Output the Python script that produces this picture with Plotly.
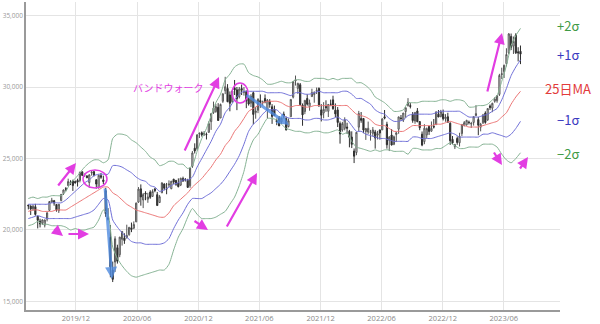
import plotly.graph_objects as go
import pandas as pd

# weekly candles (Friday of each week), Nikkei 225, Jul 2019 - Jul 2023
weeks = pd.date_range("2019-07-12", periods=211, freq="W-FRI")

opens = [21750,21680,21480,21630,20960,20620,20490,20340,20760,21370,21960,22050,21780,21350,22060,22550,22890,23100,23320,23420,23390,23470,23460,24070,23840,
23780,23320,23990,24080,23510,22970,23800,23500,22750,20850,19470,17190,17760,18760,18270,19350,19440,19460,19670,20150,20130,20570,21950,22880,22100,22580,22150,22650,22350,22870,22470,21920,22600,23220,22890,23140,22890,23550,23470,23290,23140,23600,23540,23470,23090,24460,25720,25690,26720,26800,26700,26690,
26830,27580,28200,28280,28580,27830,29000,29740,29900,29440,28970,29940,29800,29320,29900,29620,29690,29200,28870,29600,28210,28370,29050,28900,29200,28400,29000,28620,28450,27670,27830,27560,28100,27790,27230,27920,29290,30420,29900,30160,28730,28280,29200,28620,29330,29470,29710,29900,28400,28180,28640,28300,28800,
29100,28380,28400,27440,26990,27110,27200,26900,26500,25520,25420,27190,27800,27800,26890,26850,26830,26760,26860,26630,27000,27000,27920,27390,26270,26640,25990,26680,27050,27830,27680,28280,28700,28700,28090,27620,28330,27580,26700,26180,26650,27250,26910,27250,27370,28100,27930,28110,27780,27920,27470,26340,
25820,26400,26100,26740,27300,27350,27540,27410,27520,28000,27720,27190,27500,28180,27700,28670,28520,29000,29040,29480,30870,31070,31640,32390,33540,32860,33630,32460,32500]
highs = [21760,21720,21760,21830,21000,20790,20740,20720,21240,22020,22250,22100,21800,21820,22510,22820,23000,23590,23480,23520,23460,23590,24090,24090,23950,
23830,23900,24120,24120,23560,23870,23990,23800,22950,21530,20350,17790,19560,18970,19520,19920,19770,20370,20220,20520,20600,21920,23000,23190,22590,22710,22600,22780,22840,22940,22660,22440,23340,23260,23290,23470,23430,23580,23480,23610,23650,23730,23630,23580,24330,25520,26060,26710,26830,26890,26920,26820,
27600,28140,28980,28820,28870,28840,29560,30710,30200,29690,29770,30490,30000,30000,30170,29990,29760,29260,29500,29690,28600,29200,29480,29050,29480,29160,29150,28800,28700,27800,27970,27860,28280,27930,27800,29130,30380,30800,30300,30280,28850,29070,29490,29120,29880,29700,29960,29970,28800,28940,29070,28800,29120,
29390,28850,28600,27590,27560,27880,27500,27000,26900,25700,26850,28330,28250,27830,27140,27580,27000,27200,27000,26930,27020,27820,28390,27570,26570,27060,26600,26860,27920,28040,28180,28560,29220,28870,28250,28260,28530,27620,26890,27400,27170,27260,27590,27760,28290,28390,28400,28420,28100,28200,27530,26570,
26020,26540,26800,27400,27620,27700,27650,27560,27930,28730,27900,27490,28120,28300,28520,28780,28900,29280,29430,30920,31350,31560,32710,33770,33740,33530,33760,32780,32900]
lows = [21440,21050,21350,21000,20110,20180,20360,20180,20600,21340,21890,21700,21280,21190,22000,22450,22710,23080,23140,22730,23250,23040,23330,23770,23720,
23620,22950,23800,23740,22890,22890,23580,23200,20920,20670,16690,16360,17060,17650,18100,18910,19030,19400,19600,19850,20060,20550,21900,21700,21530,22080,21900,22180,22310,22640,21710,21900,22580,22780,22500,22980,22850,23220,23090,22980,23070,23410,23390,22950,22950,24340,25350,25570,26430,26530,26570,26330,
26810,27000,28120,28200,27630,27830,28890,29500,28940,28300,28900,29440,28380,29200,29440,29400,28520,28700,28600,27390,27780,28170,28550,28700,28860,27800,28550,27420,27990,27330,27270,27420,27800,26950,27180,27910,29200,30100,29520,28690,27290,28100,28700,28340,29320,28900,29510,28600,27590,27810,28270,27900,28660,
28410,27890,27200,26040,26880,26970,26720,25780,25730,24680,25230,26900,27500,26770,26300,26720,26250,26560,25690,26330,26320,26990,27740,25690,25520,25920,25930,26150,26730,27640,27550,27850,28630,28500,27500,27430,27540,26980,25860,26000,26410,26650,26870,27100,27350,27900,27880,27660,27570,27510,25950,25990,
25660,25960,25840,26560,27250,27300,27380,27140,27300,27960,26630,26900,27410,27430,27630,28400,28240,28900,28900,29370,30560,30630,31440,32290,32580,32310,32310,31790,31600]
closes = [21690,21470,21660,21090,20680,20420,20710,20700,21200,21990,22080,21880,21410,21800,22490,22800,22850,23390,23300,23110,23290,23350,24020,23820,23840,
23660,23850,24040,23830,23210,23830,23690,23390,21140,20750,17430,16550,19390,17820,19500,19900,19260,19620,20180,20040,20390,21880,22860,22310,22480,22510,22310,22290,22700,22750,21710,22330,23290,22920,22880,23210,23410,23360,23200,23030,23620,23410,23520,22980,24330,25390,25530,26640,26750,26650,26760,26660,
27440,28140,28520,28630,27660,28780,29520,30020,28970,28860,29720,29790,29180,29850,29770,29680,29020,28810,29360,28080,28320,29150,28940,28950,28960,29070,28780,27940,28000,27550,27280,27820,27980,27010,27640,29130,30380,30500,30250,28770,28050,29070,28800,28890,29610,29610,29750,28750,28030,28440,28550,28780,28790,
28480,28120,27520,26720,27440,27700,27120,26480,25990,25160,26830,28150,27670,26990,27090,27110,26850,27000,26430,26740,26780,27760,27820,25960,26490,25940,26520,26790,27910,27800,28180,28550,28930,28640,27650,28210,27570,27150,25940,27120,27090,26890,27110,27200,28260,27900,28280,27780,27900,27530,26240,26090,
25970,26120,26550,27380,27510,27670,27510,27450,27930,28140,27330,27390,28040,27520,28490,28560,28860,29160,29390,30810,30920,31520,32270,33710,32780,33190,32390,32390,32300]

# Bollinger band levels read every second week
band_weeks = weeks[::2]
upper2 = [22200,22300,22200,22300,22300,22400,22400,22400,22700,23300, 23600,24000,24400,24700,24900,24900,24700,24900,26400,26700,
          26700,26600,26300,26100,25800,25500,25100,24900,24500,24600, 24800,24800,24600,24600,24300,24500,25500,26400,27100,28000,
          28900,29500,30500,30900,31400,31600,31600,31000,30800,30700, 30500,30200,30200,30300,30400,30300,30300,30500,30500,30400,
          30400,30600,30600,30600,30500,30600,30500,30600,30600,30600, 30300,30300,30100,29800,29300,29100,28900,28600,28300,28300,
          28400,28900,28900,28900,29000,29000,29000,29000,29100,29100, 29000,29100,29100,29000,28600,28600,28700,28700,28800,29100,
          29400,30400,31500,32900,33600,34100]
upper1 = [21800,21800,21800,21800,21800,21900,21900,21900,22100,22400, 22700,23000,23300,23500,23800,23900,23900,23900,24500,24500,
          24400,24200,24000,23700,23500,23400,23100,23000,22700,22800, 23000,23200,23300,23500,23500,23700,24400,25000,25600,26200,
          26900,27400,28200,28600,29100,29500,29700,29700,29700,29700, 29700,29600,29600,29600,29600,29500,29400,29600,29600,29500,
          29500,29600,29700,29600,29600,29600,29600,29700,29700,29500, 29200,29200,29000,28800,28400,28200,28100,27800,27600,27600,
          27700,28000,28100,28100,28100,28100,28100,28200,28300,28300, 28300,28300,28300,28100,27900,27900,27900,28000,28100,28300,
          28500,29100,29900,30800,31400,31900]
middle = [21300,21400,21400,21300,21300,21300,21400,21400,21400,21600, 21800,22000,22200,22400,22600,22800,23000,23000,22600,22400,
          22100,21800,21600,21400,21300,21200,21100,21000,20900,20900, 21200,21700,22000,22300,22600,23000,23300,23600,24000,24400,
          24900,25300,25900,26300,26900,27300,27800,28300,28500,28700, 28900,29000,29000,29000,28900,28700,28600,28700,28700,28600,
          28600,28700,28700,28700,28700,28700,28700,28700,28700,28400, 28100,28000,27900,27700,27400,27300,27300,27100,26900,26900,
          26900,27100,27300,27300,27300,27300,27300,27400,27400,27500, 27600,27500,27400,27300,27200,27200,27200,27300,27400,27500,
          27600,27900,28200,28800,29300,29700]
lower1 = [20800,20900,21000,20900,20800,20800,20800,20800,20800,20800, 20900,21000,21100,21200,21400,21800,22200,22100,20700,20200,
          19800,19500,19200,19100,19100,19000,19000,19000,19000,19100, 19400,20100,20700,21200,21800,22200,22200,22200,22400,22600,
          22900,23200,23600,24100,24600,25200,26000,26900,27400,27700, 28100,28400,28400,28400,28100,27900,27800,27800,27800,27700,
          27700,27800,27800,27700,27700,27800,27900,27700,27700,27300, 26900,26900,26700,26600,26500,26400,26400,26300,26200,26200,
          26200,26200,26500,26500,26400,26400,26400,26500,26600,26700, 26800,26700,26500,26500,26500,26500,26500,26700,26700,26800,
          26700,26600,26500,26700,27100,27600]
lower2 = [20300,20400,20600,20400,20400,20300,20300,20300,20200,20000, 20100,20000,20000,20100,20200,20700,21400,21100,18800,18000,
          17500,17100,16800,16700,16800,16900,17000,17100,17200,17200, 17600,18600,19500,20100,20900,21500,21100,20800,20800,20800,
          20900,21100,21300,21800,22300,23100,24100,25500,26300,26700, 27300,27800,27800,27700,27400,27100,27000,26900,26900,26800,
          26800,26900,26900,26800,26800,26900,27000,26700,26800,26200, 25800,25700,25600,25500,25600,25500,25600,25600,25500,25500,
          25500,25300,25700,25700,25600,25600,25600,25700,25700,25900, 26100,25900,25700,25700,25800,25800,25800,26000,26000,26000,
          25800,25300,24900,24700,25000,25400]

tick_dates = ["2019-12-01","2020-06-01","2020-12-01","2021-06-01","2021-12-01","2022-06-01","2022-12-01","2023-06-01"]
tick_text = ["2019/12","2020/06","2020/12","2021/06","2021/12","2022/06","2022/12","2023/06"]
y_ticks = [15000, 20000, 25000, 30000, 35000]

fig = go.Figure()
fig.add_trace(go.Candlestick(x=weeks, open=opens, high=highs, low=lows, close=closes,
    increasing=dict(fillcolor="white", line=dict(color="#555555", width=1)),
    decreasing=dict(fillcolor="#2e2e2e", line=dict(color="#2e2e2e", width=1)),
    whiskerwidth=0, hoverinfo="skip"))
band_series = [(upper2, "#86b394"), (upper1, "#7070d8"), (middle, "#ec7676"), (lower1, "#7070d8"), (lower2, "#86b394")]
for vals, col in band_series:
    fig.add_trace(go.Scatter(x=band_weeks, y=vals, mode="lines",
                             line=dict(color=col, width=1, shape="spline", smoothing=0.6)))

def P(px, py):
    return (px - 26) / 534, (310 - py) / 308

anns = []
mag = "#e23de2"
arrows = [((57, 187), (76, 163)), ((53, 228), (63, 236)), ((67, 234), (89, 234)), ((184, 152), (219, 77)),
          ((193, 220), (208, 230)), ((226, 228), (257, 173)), ((487, 93), (502, 33)), ((493, 151), (502, 165)),
          ((519, 170), (528, 157))]
for (t, h) in arrows:
    x, y = P(*h)
    anns.append(dict(x=x, y=y, xref="paper", yref="paper", ax=t[0] - h[0], ay=t[1] - h[1], axref="pixel", ayref="pixel",
                     text="", showarrow=True, arrowhead=2, arrowsize=1, arrowwidth=2.2, arrowcolor=mag))
for (t, h) in [((105, 187), (112, 279)), ((245, 94), (289, 125))]:
    x, y = P(*h)
    anns.append(dict(x=x, y=y, xref="paper", yref="paper", ax=t[0] - h[0], ay=t[1] - h[1], axref="pixel", ayref="pixel",
                     text="", showarrow=True, arrowhead=2, arrowsize=0.8, arrowwidth=3, arrowcolor="rgba(80,140,225,0.8)"))
x, y = P(168, 87)
anns.append(dict(x=x, y=y, xref="paper", yref="paper", text="バンドウォーク", showarrow=False,
                 xanchor="center", yanchor="middle",
                 font=dict(size=10, color=mag, family="Noto Sans CJK JP")))
labels = [("+2σ", 25, "#3f9a45"), ("+1σ", 55, "#3a3abf"), ("25日MA", 88, "#e23b3b"), ("−1σ", 119, "#3a3abf"), ("−2σ", 153, "#3f9a45")]
for txt, py, c in labels:
    x, y = P(567.5, py)
    anns.append(dict(x=x, y=y, xref="paper", yref="paper", text=txt, showarrow=False, xanchor="center", yanchor="middle",
                     font=dict(size=13, color=c, family="Noto Sans CJK JP")))

shapes = []
for (x0p, y0p, x1p, y1p) in [(83, 170, 107, 188), (232, 83, 248, 103)]:
    a0, b0 = P(x0p, y1p)
    a1, b1 = P(x1p, y0p)
    shapes.append(dict(type="circle", xref="paper", yref="paper", x0=a0, y0=b0, x1=a1, y1=b1,
                       line=dict(color=mag, width=1.5)))

fig.update_layout(width=600, height=324, margin=dict(l=26, r=40, t=2, b=14), plot_bgcolor="white",
                  paper_bgcolor="white", showlegend=False, annotations=anns, shapes=shapes)
fig.update_xaxes(type="date", range=["2019-07-05", "2023-11-16"], tickvals=tick_dates, ticktext=tick_text,
                 showgrid=True, gridcolor="#e4e4e4", gridwidth=1, showline=True, linecolor="#9a9a9a", linewidth=1.5,
                 tickfont=dict(size=7.5, color="#888888"), rangeslider=dict(visible=False), ticks="")
fig.update_yaxes(range=[14405, 35944], tickvals=y_ticks, tickformat=",", showgrid=True, gridcolor="#e4e4e4",
                 showline=True, linecolor="#9a9a9a", linewidth=1.5, tickfont=dict(size=6.5, color="#999999"), ticks="")
fig.write_html("out.html")
